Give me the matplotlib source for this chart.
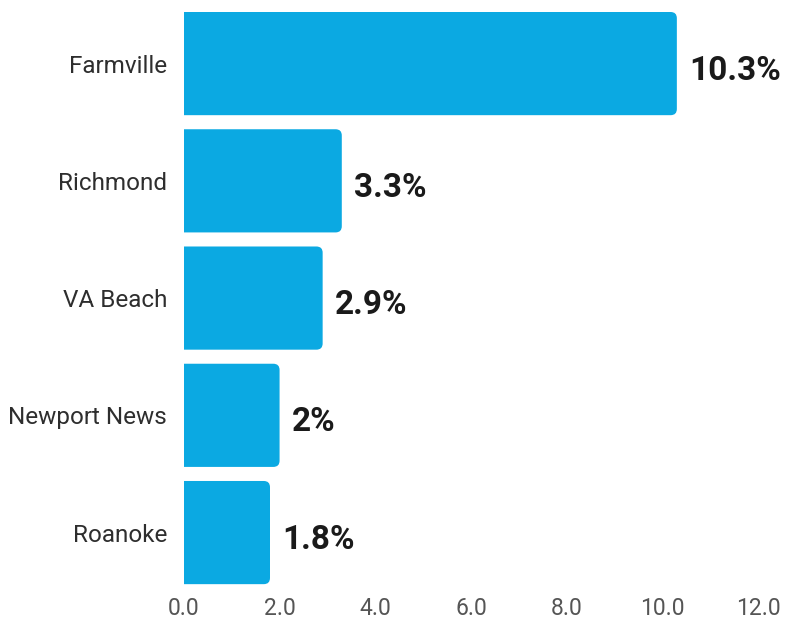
import matplotlib.pyplot as plt
from matplotlib.patches import FancyBboxPatch
import numpy as np

################################################################################
# data
################################################################################
cities = ["Farmville", "Richmond", "VA Beach", "Newport News", "Roanoke"]
values = [10.3, 3.3, 2.9, 2.0, 1.8]
value_labels = ["10.3%", "3.3%", "2.9%", "2%", "1.8%"]
xticks = [0.0, 2.0, 4.0, 6.0, 8.0, 10.0, 12.0]

BAR_COLOR = "#0BA9E2"

################################################################################
# plot
################################################################################
fig = plt.figure(figsize=(7.89, 6.21), dpi=100)
ax = fig.add_axes([0.233, 0.048, 0.728, 0.944])

y = np.arange(len(cities))
bars = ax.barh(y, values, height=0.88, color=BAR_COLOR)

# swap the plain bars for rounded ones (left end hidden behind the axis edge)
for b in bars:
    x0, y0 = b.get_x(), b.get_y()
    w, h = b.get_width(), b.get_height()
    b.set_visible(False)
    r = 0.13
    patch = FancyBboxPatch((x0 - 0.3, y0), w + 0.3, h,
                           boxstyle=f"round,pad=0,rounding_size={r}",
                           mutation_aspect=0.41,
                           facecolor=BAR_COLOR, edgecolor="none")
    ax.add_patch(patch)

for yi, v, lab in zip(y, values, value_labels):
    ax.annotate(lab, (v, yi + 0.06), xytext=(9, 0), textcoords="offset points",
                ha="left", va="center", fontsize=24, fontweight="bold",
                family="Roboto", color="#1a1a1a")

ax.set_xlim(0, 12)
ax.set_ylim(len(cities) - 0.5, -0.5)
ax.set_xticks(xticks)
ax.set_xticklabels([f"{t:.1f}" for t in xticks], family="Roboto", fontsize=16.5, color="#555555")
ax.set_yticks(y)
ax.set_yticklabels(cities, family="Roboto", fontsize=17.5, color="#2e2e2e")
ax.tick_params(axis="both", length=0)
ax.tick_params(axis="x", pad=4)
ax.tick_params(axis="y", pad=12)
for s in ax.spines.values():
    s.set_visible(False)

plt.savefig("out.png", dpi=100)
